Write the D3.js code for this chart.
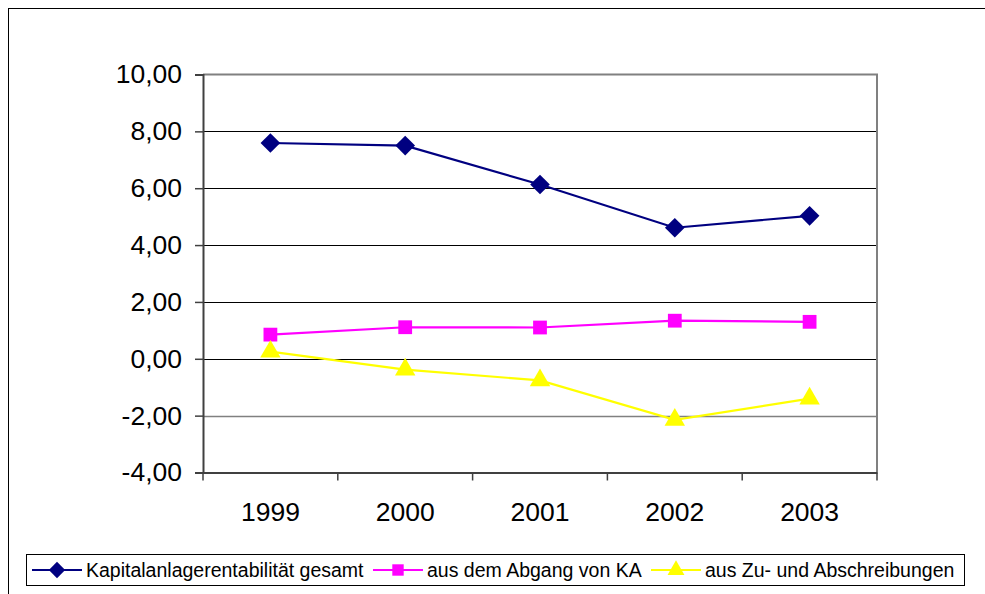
<!DOCTYPE html>
<html>
<head>
<meta charset="utf-8">
<script src="https://cdn.jsdelivr.net/npm/d3@7"></script>
<style>
  body { margin: 0; background: #fff; }
  text { font-family: "Liberation Sans", Arial, sans-serif; fill: #000; }
</style>
</head>
<body>
<div id="chart"></div>
<script>
var years = ["1999", "2000", "2001", "2002", "2003"];
var gesamt = [7.59, 7.50, 6.13, 4.61, 5.03];
var abgang = [0.85, 1.11, 1.10, 1.34, 1.30];
var zuAb = [0.25, -0.38, -0.76, -2.15, -1.40];
var yTicks = [-4, -2, 0, 2, 4, 6, 8, 10];

var series = [
  {name: "Kapitalanlagerentabilität gesamt", values: gesamt, color: "#000080", symbol: "diamond"},
  {name: "aus dem Abgang von KA", values: abgang, color: "#ff00ff", symbol: "square"},
  {name: "aus Zu- und Abschreibungen", values: zuAb, color: "#ffff00", symbol: "triangle"}
];

var W = 985, H = 594;
var plot = {left: 203, right: 877, top: 74.5, bottom: 472.5};

var svg = d3.select("#chart").append("svg")
    .attr("width", W)
    .attr("height", H);

// outer chart frame
svg.append("rect")
    .attr("x", 8.5).attr("y", 8.5)
    .attr("width", W + 10).attr("height", H + 10)
    .attr("fill", "none")
    .attr("stroke", "#000")
    .attr("stroke-width", 1);

var x = d3.scaleBand().domain(years).range([plot.left, plot.right]);
var y = d3.scaleLinear().domain([-4, 10]).range([plot.bottom, plot.top]);

// gridlines
svg.append("g")
    .selectAll("line")
    .data(yTicks.filter(function(d) { return d > -4 && d < 10; }))
    .enter().append("line")
    .attr("x1", plot.left).attr("x2", plot.right)
    .attr("y1", function(d) { return Math.round(y(d)) + 0.5; })
    .attr("y2", function(d) { return Math.round(y(d)) + 0.5; })
    .attr("stroke", function(d) { return d === -2 ? "#808080" : "#000"; })
    .attr("stroke-width", function(d) { return d === -2 ? 1.5 : 1; });

// plot border (top + right)
svg.append("path")
    .attr("d", "M" + plot.left + "," + y(10) + "H" + plot.right + "V" + plot.bottom)
    .attr("fill", "none")
    .attr("stroke", "#808080")
    .attr("stroke-width", 2);

// y axis
var yAxis = svg.append("g")
    .attr("transform", "translate(" + plot.left + ",0)")
    .call(d3.axisLeft(y)
        .tickValues(yTicks)
        .tickSize(8)
        .tickPadding(13)
        .tickFormat(function(d) { return d3.format(".2f")(d).replace(".", ",").replace("−", "-"); })
    );
yAxis.select(".domain").attr("stroke", "#404040").attr("stroke-width", 2);
yAxis.selectAll(".tick line").attr("stroke", "#404040").attr("stroke-width", 1.5);
yAxis.selectAll("text")
    .attr("font-size", "26.5px")
    .attr("font-family", "Liberation Sans, Arial, sans-serif")
    .attr("fill", "#000");

// x axis
var xAxis = svg.append("g")
    .attr("transform", "translate(0," + plot.bottom + ")")
    .call(d3.axisBottom(x).tickSize(0).tickPadding(30));
xAxis.select(".domain").attr("stroke", "#404040").attr("stroke-width", 2);
xAxis.selectAll("text")
    .attr("font-size", "26.5px")
    .attr("font-family", "Liberation Sans, Arial, sans-serif")
    .attr("fill", "#000");

// x ticks between categories
svg.append("g")
    .selectAll("line")
    .data(years.concat(["end"]))
    .enter().append("line")
    .attr("x1", function(d, i) { return i < years.length ? x(d) : plot.right; })
    .attr("x2", function(d, i) { return i < years.length ? x(d) : plot.right; })
    .attr("y1", plot.bottom).attr("y2", plot.bottom + 8)
    .attr("stroke", "#404040")
    .attr("stroke-width", 1.5);

function symbolFor(s, size) {
  if (s === "diamond") return d3.symbol().type(d3.symbolDiamond2).size(size * 1.3)();
  if (s === "square") return d3.symbol().type(d3.symbolSquare).size(size)();
  return d3.symbol().type(d3.symbolTriangle).size(size * 0.95)();
}

var line = d3.line()
    .x(function(d, i) { return x(years[i]) + x.bandwidth() / 2; })
    .y(function(d) { return y(d); });

series.forEach(function(s) {
  svg.append("path")
      .datum(s.values)
      .attr("d", line)
      .attr("fill", "none")
      .attr("stroke", s.color)
      .attr("stroke-width", 2.2);

  svg.append("g")
      .selectAll("path")
      .data(s.values)
      .enter().append("path")
      .attr("transform", function(d, i) {
        return "translate(" + (x(years[i]) + x.bandwidth() / 2) + "," + y(d) + ")";
      })
      .attr("d", symbolFor(s.symbol, 190))
      .attr("fill", s.color);
});

// legend
var legend = svg.append("g");
legend.append("rect")
    .attr("x", 26.5).attr("y", 554.5)
    .attr("width", 938).attr("height", 31)
    .attr("fill", "#fff")
    .attr("stroke", "#000")
    .attr("stroke-width", 1);

var legendX = [32, 373, 651];
series.forEach(function(s, i) {
  var g = legend.append("g").attr("transform", "translate(" + legendX[i] + ",570)");
  g.append("line")
      .attr("x1", 0).attr("x2", 50)
      .attr("stroke", s.color)
      .attr("stroke-width", 2.2);
  g.append("path")
      .attr("transform", "translate(25,0)")
      .attr("d", symbolFor(s.symbol, 130))
      .attr("fill", s.color);
  g.append("text")
      .attr("x", 54)
      .attr("y", 7)
      .attr("font-size", "19.5px")
      .text(s.name);
});
</script>
</body>
</html>
